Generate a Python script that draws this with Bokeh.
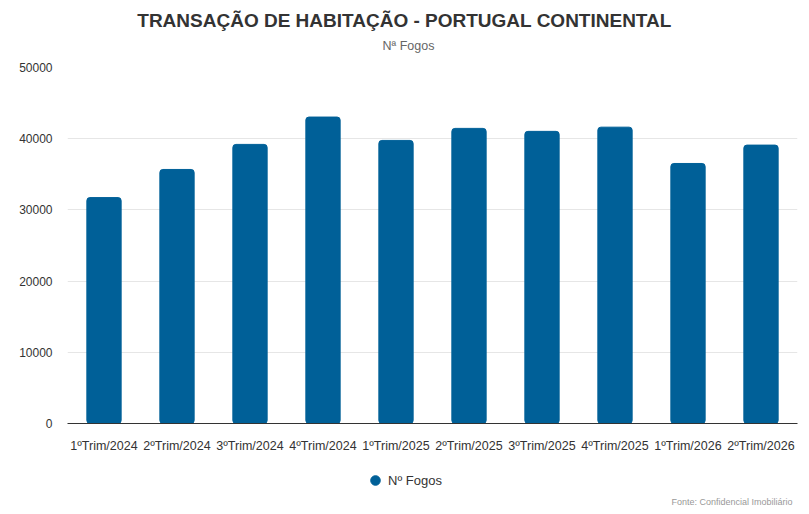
from bokeh.plotting import figure
from bokeh.models import Range1d, FixedTicker, Label, Legend, LegendItem
from bokeh.layouts import column
from bokeh.embed import file_html
from bokeh.resources import INLINE

quarters = ["1ºTrim/2024", "2ºTrim/2024", "3ºTrim/2024", "4ºTrim/2024", "1ºTrim/2025",
            "2ºTrim/2025", "3ºTrim/2025", "4ºTrim/2025", "1ºTrim/2026", "2ºTrim/2026"]
fogos = [31730, 35680, 39200, 43040, 39760, 41450, 41030, 41620, 36520, 39100]
y_ticks = [0, 10000, 20000, 30000, 40000, 50000]

FONT = "Liberation Sans"
BAR = "#006098"
LEFT = 67          # frame left edge, shared by the three stacked figures


def blank(h):
    f = figure(x_range=Range1d(0, 1), y_range=Range1d(0, 1), frame_width=730, frame_height=h,
               output_backend="svg", toolbar_location=None, tools="")
    f.min_border = 0
    f.min_border_left = LEFT
    f.min_border_right = 4
    f.axis.visible = False
    f.grid.visible = False
    f.outline_line_color = None
    return f


# header: title and subtitle
top = blank(58)
top.add_layout(Label(x=404 - LEFT, y=38, x_units="screen", y_units="screen", text_align="center",
                     text_baseline="middle", text="TRANSAÇÃO DE HABITAÇÃO - PORTUGAL CONTINENTAL",
                     text_font=FONT, text_font_size="19px", text_font_style="bold",
                     text_color="#333333"))
top.add_layout(Label(x=408 - LEFT, y=13, x_units="screen", y_units="screen", text_align="center",
                     text_baseline="middle", text="Nª Fogos", text_font=FONT,
                     text_font_size="12.5px", text_color="#666666"))

# main chart
p = figure(x_range=quarters, y_range=Range1d(0, 50000), frame_width=730, frame_height=356,
           output_backend="svg", toolbar_location=None, tools="")
p.min_border_left = LEFT
p.min_border_right = 4
p.min_border_top = 9
p.min_border_bottom = 40
p.outline_line_color = None

p.vbar(x=quarters, top=fogos, width=0.47, color=BAR, border_radius=3)

p.yaxis.ticker = FixedTicker(ticks=y_ticks)
p.yaxis.axis_line_color = None
p.yaxis.major_tick_line_color = None
p.yaxis.major_tick_out = 0
p.yaxis.minor_tick_line_color = None
p.yaxis.major_label_standoff = 15
p.yaxis.major_label_text_font = FONT
p.yaxis.major_label_text_font_size = "12px"
p.yaxis.major_label_text_color = "#333333"

p.xaxis.axis_line_color = "#333333"
p.xaxis.major_tick_line_color = None
p.xaxis.major_tick_out = 0
p.xaxis.major_label_standoff = 15
p.xaxis.major_label_text_font = FONT
p.xaxis.major_label_text_font_size = "12.5px"
p.xaxis.major_label_text_color = "#333333"

p.xgrid.grid_line_color = None
p.ygrid.grid_line_color = "#e6e6e6"

# footer: legend and source
bottom = blank(48)
dot = bottom.scatter(x=[-1], y=[-1], size=12, color=BAR)   # off-frame, only feeds the legend icon
legend = Legend(items=[LegendItem(label="Nº Fogos", renderers=[dot])], orientation="horizontal",
                location=(363 - LEFT, 19), border_line_color=None, background_fill_alpha=0,
                label_text_font=FONT, label_text_font_size="13px", label_text_color="#333333",
                glyph_width=24, glyph_height=24, label_height=12, label_standoff=1,
                padding=0, margin=0, spacing=0)
bottom.add_layout(legend, "center")
bottom.add_layout(Label(x=792 - LEFT, y=10, x_units="screen", y_units="screen", text_align="right",
                        text_baseline="middle", text="Fonte: Confidencial Imobiliário",
                        text_font=FONT, text_font_size="9px", text_color="#999999"))

layout = column(top, p, bottom, spacing=0)
open("out.html", "w").write(file_html(layout, INLINE))
